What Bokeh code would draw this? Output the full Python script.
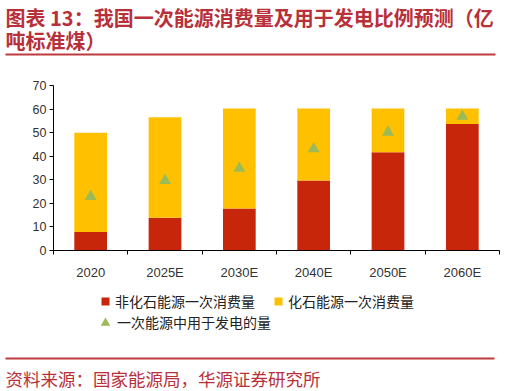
from bokeh.plotting import figure
from bokeh.layouts import column
from bokeh.models import (ColumnDataSource, Range1d, FixedTicker, LinearAxis,
                          Legend, LegendItem, Label)
from bokeh.embed import file_html
from bokeh.resources import INLINE

# ---- data ----
categories = ["2020", "2025E", "2030E", "2040E", "2050E", "2060E"]
non_fossil = [7.8, 13.9, 17.8, 29.7, 41.7, 53.7]
fossil = [42.2, 42.6, 42.4, 30.5, 18.5, 6.5]
power_use = [22.9, 29.7, 34.9, 43.1, 50.2, 56.9]
y_ticks = [0, 10, 20, 30, 40, 50, 60, 70]

series_names = ["非化石能源一次消费量", "化石能源一次消费量", "一次能源中用于发电的量"]
title_lines = ["图表 13：我国一次能源消费量及用于发电比例预测（亿", "吨标准煤）"]
source_text = "资料来源：国家能源局，华源证券研究所"

RED = "#C8260A"
YELLOW = "#FFC000"
GREEN = "#9BBB59"
TITLE_RED = "#B8303A"
LINE_RED = "#BF3A3F"
CJK = "Noto Sans CJK SC"
LATIN = "Liberation Sans"
W = 529


def no_align(f):
    try:
        f.frame_align = False
    except Exception:
        pass
    return f


def blank_fig(h):
    f = figure(width=W, height=h, x_range=Range1d(0, W), y_range=Range1d(h, 0),
               output_backend="svg", toolbar_location=None, x_axis_location=None,
               y_axis_location=None, min_border=0)
    f.outline_line_color = None
    f.grid.visible = False
    return no_align(f)


# ---- title block ----
tf = blank_fig(60)
for txt, yy in zip(title_lines, [16.5, 40]):
    tf.add_layout(Label(x=5, y=yy, text=txt, text_baseline="middle", text_font=CJK,
                        text_font_size="20px", text_font_style="bold", text_color=TITLE_RED))
tf.segment(x0=[5], y0=[54], x1=[495], y1=[54], line_color=LINE_RED, line_width=2)

# ---- main chart ----
n = len(categories)
xpos = [i + 0.5 for i in range(n)]
src = ColumnDataSource(dict(x=xpos, non_fossil=non_fossil, fossil=fossil, power=power_use))

p = figure(width=W, height=230, x_range=Range1d(0, n), y_range=Range1d(0, 70),
           output_backend="svg", toolbar_location=None, x_axis_location=None,
           min_border_left=53, min_border_right=30, min_border_top=25, min_border_bottom=40)
no_align(p)
p.outline_line_color = None
p.grid.visible = False

bars = p.vbar_stack(["non_fossil", "fossil"], x="x", width=0.44, color=[RED, YELLOW],
                    line_width=0, source=src)
tri = p.scatter(x="x", y="power", marker="triangle", size=12, color=GREEN, line_width=0, source=src)

ya = p.yaxis[0]
ya.ticker = FixedTicker(ticks=y_ticks)
ya.minor_tick_line_color = None
ya.major_tick_in = 0
ya.major_tick_out = 4
ya.axis_line_color = "#000000"
ya.major_tick_line_color = "#000000"
ya.major_label_standoff = 3
ya.major_label_text_font = LATIN
ya.major_label_text_font_size = "12.5px"
ya.major_label_text_color = "#333333"

# x axis: labels at category centres, tick marks (minor) at category boundaries
cat_axis = LinearAxis(ticker=FixedTicker(ticks=xpos, minor_ticks=list(range(n + 1))),
                      major_label_overrides={x: c for x, c in zip(xpos, categories)})
cat_axis.axis_line_color = "#000000"
cat_axis.major_tick_line_color = None
cat_axis.major_tick_in = 0
cat_axis.major_tick_out = 0
cat_axis.minor_tick_line_color = "#000000"
cat_axis.minor_tick_in = 0
cat_axis.minor_tick_out = 4
cat_axis.major_label_standoff = 10
cat_axis.major_label_text_font = LATIN
cat_axis.major_label_text_font_size = "13px"
cat_axis.major_label_text_color = "#333333"
p.add_layout(cat_axis, "below")

# ---- legend block: hidden copies of the series only supply the legend keys ----
LH = 55
lf = blank_fig(LH)
lf.y_range = Range1d(0, LH)
k_bars = lf.vbar_stack(["non_fossil", "fossil"], x="x", width=0.44, color=[RED, YELLOW],
                       line_width=0, source=src)
k_tri = lf.scatter(x="x", y="power", marker="triangle", color=GREEN, line_width=0, source=src)
for r in list(k_bars) + [k_tri]:
    r.visible = False
leg1 = Legend(items=[LegendItem(label=series_names[0], renderers=[k_bars[0]]),
                     LegendItem(label=series_names[1], renderers=[k_bars[1]])],
              orientation="horizontal", location=(100, 34), glyph_width=10, glyph_height=10,
              label_standoff=5, spacing=18, padding=0, margin=0, border_line_color=None,
              background_fill_alpha=0, label_text_font=CJK, label_text_font_size="14px",
              label_text_color="#222222", label_height=10, inactive_fill_alpha=0)
leg2 = Legend(items=[LegendItem(label=series_names[2], renderers=[k_tri])],
              orientation="horizontal", location=(93, 10.5), glyph_width=24, glyph_height=25,
              label_standoff=0, padding=0, margin=0, border_line_color=None,
              background_fill_alpha=0, label_text_font=CJK, label_text_font_size="14px",
              label_text_color="#222222", label_height=10, inactive_fill_alpha=0)
lf.add_layout(leg1)
lf.add_layout(leg2)

# ---- footer ----
ff = blank_fig(46)
ff.segment(x0=[5], y0=[13], x1=[494], y1=[13], line_color=LINE_RED, line_width=2)
ff.add_layout(Label(x=5, y=32.5, text=source_text, text_baseline="middle", text_font=CJK,
                    text_font_size="17.5px", text_color=TITLE_RED))

layout = column(tf, p, lf, ff, spacing=0)
open("out.html", "w").write(file_html(layout, INLINE))
